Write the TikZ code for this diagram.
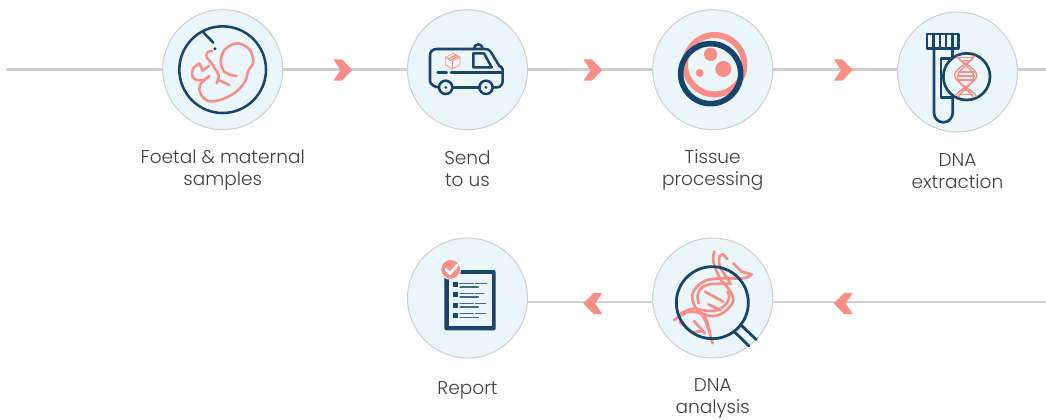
\documentclass[tikz,border=0pt]{standalone}
\usepackage{fontspec}
\setmainfont{Poppins Light}
\definecolor{pk}{HTML}{F78F88}
\definecolor{nv}{HTML}{17456B}
\definecolor{bgc}{HTML}{EAF6F9}
\definecolor{edge}{HTML}{CFCFCF}
\definecolor{txt}{HTML}{404040}
\newcommand{\lastline}{\rule[-3pt]{0pt}{3pt}}
\tikzset{
  stepcircle/.style={circle,draw=edge,line width=.75pt,fill=bgc,minimum size=90pt,inner sep=0pt},
  steplabel/.style={anchor=south,text=txt,align=center,font=\fontsize{13.9}{16.6}\selectfont,inner sep=0pt},
  link/.style={draw=edge,line width=1.9pt},
  icon/.style={x=.25pt,y=-.25pt,line cap=round,line join=round},
  nvl/.style={draw=nv,line width=1.9pt},
  pkl/.style={draw=pk,line width=1.9pt},
}
\newcommand{\chevR}[2]{\fill[pk] (#1,#2) ++(0,-10.7) -- ++(8.6,0) -- ++(10.4,10.7) -- ++(-10.4,10.7) -- ++(-8.6,0) -- ++(7.2,-10.7) -- cycle;}
\newcommand{\chevL}[2]{\fill[pk] (#1,#2) ++(0,-10.7) -- ++(-8.6,0) -- ++(-10.4,10.7) -- ++(10.4,10.7) -- ++(8.6,0) -- ++(-7.2,-10.7) -- cycle;}
\begin{document}
\begin{tikzpicture}[x=.75pt,y=-.75pt]
\useasboundingbox (0,0) rectangle (1046,419);
\coordinate (s1) at (6,69.7);
\coordinate (e1) at (1046,69.7);
\coordinate (e2) at (1046,302.7);
\node[stepcircle] (n1) at (222.7,69.7) {};
\node[stepcircle] (n2) at (467.5,69.7) {};
\node[stepcircle] (n3) at (712.7,69.7) {};
\node[stepcircle] (n4) at (957.5,72) {};
\node[stepcircle] (n5) at (467.5,298) {};
\node[stepcircle] (n6) at (712.7,298) {};
\draw[link] (s1) -- (s1 -| n1.west);
\draw[link] (n1.east) -- (n2.west);
\draw[link] (n2.east) -- (n3.west);
\draw[link] (n3.east) -- (n3.east -| n4.west);
\draw[link] (e1 -| n4.east) -- (e1);
\draw[link] (n5.-4.5) -- (n5.-4.5 -| n6.west);
\draw[link] (n6.-4.5) -- (n6.-4.5 -| e2);
\chevR{333.3}{70}
\chevR{583.3}{70}
\chevR{833.8}{70}
\chevL{602.3}{303.5}
\chevL{852.8}{303.5}
\node[steplabel] (t1) at (222.7,190.7) {Foetal \& maternal\\samples\lastline};
\node[steplabel] (t2) at (467.5,190.7) {Send\\to us\lastline};
\node[steplabel] (t3) at (712.7,190.7) {Tissue\\processing\lastline};
\node[steplabel] (t4) at (957.5,192.7) {DNA\\extraction\lastline};
\node[steplabel] (t5) at (467.5,400) {Report\lastline};
\node[steplabel] (t6) at (712.7,419) {DNA\\analysis\lastline};
% foetus
\begin{scope}[shift={(150,0)},icon]
\draw[nvl] (218,209) circle (130);
\draw[nvl] (160,97) -- (190,128);
\fill[nv] (195,146) circle (5);
\draw[pkl] plot[smooth,tension=.6] coordinates {(222,215) (212,185) (225,148) (262,130) (298,148) (310,185) (295,212) (285,245) (255,278) (210,300) (175,303) (152,282) (150,255) (178,228)};
\draw[pkl] plot[smooth,tension=.5] coordinates {(178,228) (160,240) (135,238) (126,225) (130,205) (148,190)};
\draw[pkl] (148,190) -- (158,212) -- (178,197);
\draw[pkl] plot[smooth,tension=.6] coordinates {(187,153) (172,157) (170,172) (184,188) (195,207) (206,226) (200,250)};
\draw[pkl] (206,240) -- (238,255);
\draw[pkl] plot[smooth,tension=.6] coordinates {(222,215) (240,224) (260,228)};
\end{scope}
% van
\begin{scope}[shift={(400,0)},icon]
\draw[nvl] (222,147) -- (110,147) .. controls (98,147) and (90,155) .. (90,167) -- (90,243) .. controls (90,253) and (105,262) .. (117,262);
\draw[nvl] (158,262) -- (238,262);
\draw[nvl] (278,262) -- (292,262) .. controls (302,262) and (308,252) .. (308,242) -- (308,208) .. controls (308,202) and (302,200) .. (298,198) -- (272,155) .. controls (268,149) and (262,147) .. (255,147) -- (222,147);
\draw[nvl] (220,160) -- (252,160) -- (275,202) -- (220,202) -- cycle;
\draw[nvl] (222,146) arc (180:360:13);
\draw[nvl] (113,218) -- (140,218);
\draw[nvl] (153,218) -- (305,218);
\draw[nvl] (137,262) circle (20);
\draw[nvl] (258,262) circle (20);
\fill[nv] (137,262) circle (4.5);
\fill[nv] (258,262) circle (4.5);
\draw[pk,line width=.5pt] (136,172) -- (160,160) -- (180,172) -- (180,195) -- (157,207) -- (136,195) -- cycle;
\draw[pk,line width=.5pt] (136,172) -- (157,184) -- (180,172);
\draw[pk,line width=.5pt] (157,184) -- (157,207);
\draw[pk,line width=1pt] (145,177) -- (168,165);
\draw[pk,line width=1pt] (152,181) -- (174,169);
\end{scope}
% cell
\begin{scope}[shift={(640,0)},icon]
\draw[pk,line width=4.5pt] (224,194) circle (89);
\fill[pk] (212,163) circle (20);
\fill[pk] (250,207) circle (24);
\fill[pk] (179,219) circle (12);
\draw[nv,line width=4.2pt] (212,221) circle (90);
\end{scope}
% tube
\begin{scope}[shift={(880,0)},icon]
\draw[nvl,line width=2pt] (141,102) rectangle (235,146);
\foreach \xx in {160,180,198,217} \draw[nvl] (\xx,102) -- (\xx,146);
\draw[nvl,line width=2pt] (162,146) -- (162,339) arc (180:0:28) -- (218,290);
\draw[nvl,line width=2pt] (218,146) -- (218,170);
\draw[nvl,line width=2pt] (215,176) -- (183,176) -- (183,293) -- (215,293);
\draw[nv,fill=bgc,line width=2pt] (260,230) circle (70);
\begin{scope}
\clip (260,230) circle (67);
\foreach \sg in {1,-1} {
  \draw[pk,line width=1pt] plot[domain=160:296,samples=70,smooth] ({257+\sg*33*cos(2.57*(\x-226))},\x);
  \draw[pk,line width=1pt] plot[domain=160:296,samples=70,smooth] ({257+\sg*24*cos(2.57*(\x-226))},\x+5);
}
\foreach \yy/\aa/\bb in {173/236/278,182/240/274,216/236/284,228/232/284,240/236/284,272/240/274,284/236/278} \draw[pk,line width=.8pt] (\aa,\yy) -- (\bb,\yy);
\end{scope}
\end{scope}
% report
\begin{scope}[shift={(400,235)},icon]
\fill[nv,rounded corners=1.5pt] (133,105) rectangle (287,286);
\fill[bgc] (146,116) rectangle (275,273);
\foreach \yy in {141,171,203,234} \fill[nv] (160,\yy) rectangle (174,\yy+15);
\foreach \yy/\cc in {145/260,175/252,205/257,236/257} {
  \draw[nv!80,line width=.9pt] (180,\yy) -- (220,\yy);
  \draw[nv!80,line width=.9pt] (226,\yy) -- (\cc,\yy);
  \draw[nv!80,line width=.9pt] (180,\yy+11) -- (235,\yy+11);
}
\fill[pk,draw=bgc,line width=.8pt] (152,103) circle (30);
\draw[white,line width=2.2pt] (138,103) -- (150,116) -- (172,90);
\end{scope}
% dna analysis
\begin{scope}[shift={(670,245)},icon]
\tikzset{pkd/.style={draw=pk,line width=2pt}}
\draw[pkd] plot[smooth,tension=.6] coordinates {(133,20) (130,50) (150,100) (175,130) (190,165) (170,195) (130,213) (60,200) (12,226)};
\draw[pkd] plot[smooth,tension=.6] coordinates {(245,88) (220,100) (150,100) (100,110) (68,145) (75,185) (105,225) (128,295)};
\draw[pkd] plot[smooth,tension=.6] coordinates {(160,28) (148,35) (150,65) (175,105) (182,118)};
\draw[pkd] plot[smooth,tension=.6] coordinates {(86,175) (84,145) (110,120) (175,116)};
\draw[pkd] plot[smooth,tension=.6] coordinates {(30,208) (65,192) (130,198) (165,180) (178,155) (172,140)};
\draw[pkd] plot[smooth,tension=.6] coordinates {(84,195) (108,222) (120,265)};
\draw[pkd] (160,28) -- (172,42);
\draw[pkd] (190,55) -- (215,80) -- (245,88);
\draw[pkd] (105,140) -- (160,170);
\draw[pkd] (115,178) -- (152,195);
\draw[pkd] (30,232) -- (65,262) -- (100,258);
\draw[pkd] (72,228) -- (105,265);
\draw[nvl,line width=2.1pt] (127,173) circle (108);
\draw[nvl,line width=2.1pt] (195,262) -- (237,303);
\draw[nvl,line width=2.1pt] (215,242) -- (259,284);
\end{scope}
\end{tikzpicture}
\end{document}
